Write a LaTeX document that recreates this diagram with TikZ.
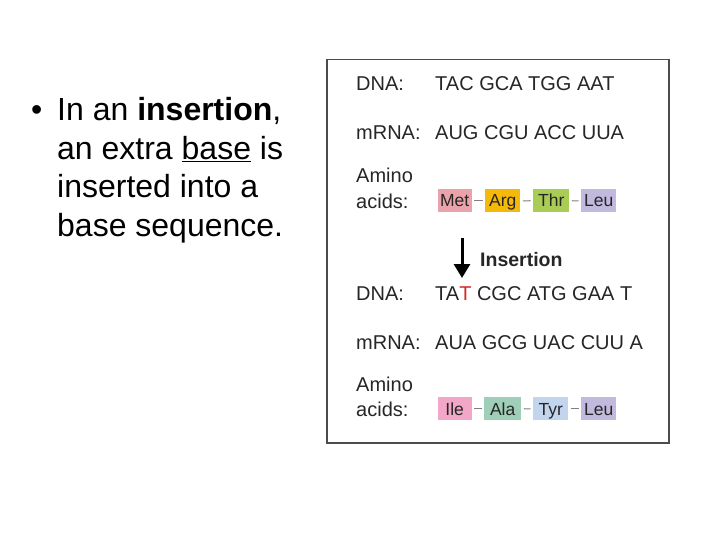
\documentclass[tikz,border=0pt]{standalone}
\usepackage{fontspec}
\setmainfont{Liberation Sans}
\usetikzlibrary{arrows.meta}
\definecolor{cMet}{HTML}{EBA3AB}
\definecolor{cArg}{HTML}{F5B90A}
\definecolor{cThr}{HTML}{A9CC55}
\definecolor{cLeu}{HTML}{C2B9DE}
\definecolor{cIle}{HTML}{F2A6C8}
\definecolor{cAla}{HTML}{9FCFB8}
\definecolor{cTyr}{HTML}{C2D4EE}
\definecolor{ins}{HTML}{D42A2A}
\tikzset{
  bul/.style={anchor=base west, inner sep=0pt, font=\fontsize{32}{38}\selectfont},
  lbl/.style={anchor=base west, inner sep=0pt, text=black!85, font=\fontsize{20}{24}\selectfont},
  aa/.style={anchor=base west, inner xsep=2pt, inner ysep=0pt, minimum height=23, text depth=0pt,
             text=black!85, font=\fontsize{17.5}{20}\selectfont},
  dashln/.style={draw=black!50, line width=1pt, shorten <=2.5pt, shorten >=2.5pt},
}
\begin{document}
\begin{tikzpicture}[x=1pt,y=-1pt]
\useasboundingbox (0,0) rectangle (720,540);
\fill[white] (0,0) rectangle (720,540);
% left bullet text
\node[bul] (b0) at (31,121) {•};
\node[bul] (t1) at (57,121) {In an \textbf{insertion},};
\node[bul] (t2) at (57,159.5) {an extra \underline{base} is};
\node[bul] (t3) at (57,198) {inserted into a};
\node[bul] (t4) at (57,236.5) {base sequence.};
% frame
\draw[black!70, line width=1.3pt] (327,59.5) rectangle (669,443);
% top block
\node[lbl] (dna1) at (356,91) {DNA:};
\node[lbl] (dnas1) at (435,91) {TAC GCA TGG AAT};
\node[lbl] (mrna1) at (356,140) {mRNA:};
\node[lbl] (mrnas1) at (435,140) {AUG CGU ACC UUA};
\node[lbl] (am1) at (356,183) {Amino};
\node[lbl] (ac1) at (356,208) {acids:};
\node[aa, fill=cMet, minimum width=34] (met) at (437.5,207) {Met};
\node[aa, fill=cArg, minimum width=35] (arg) at (485,207) {Arg};
\node[aa, fill=cThr, minimum width=36] (thr) at (533,207) {Thr};
\node[aa, fill=cLeu, minimum width=35] (leu1) at (581,207) {Leu};
\draw[dashln] (met.east) -- (arg.west);
\draw[dashln] (arg.east) -- (thr.west);
\draw[dashln] (thr.east) -- (leu1.west);
% arrow
\coordinate (atop) at (462,238);
\coordinate (atip) at (462,278);
\draw[line width=3pt, -{Triangle[width=16pt,length=14pt]}] (atop) -- (atip);
\node[lbl, font=\fontsize{19.5}{22}\selectfont\bfseries] (insl) at (480,266) {Insertion};
% bottom block
\node[lbl] (dna2) at (356,300) {DNA:};
\node[lbl] (dnas2) at (435,300) {TA\textcolor{ins}{T} CGC ATG GAA T};
\node[lbl] (mrna2) at (356,349) {mRNA:};
\node[lbl] (mrnas2) at (435,349) {AUA GCG UAC CUU A};
\node[lbl] (am2) at (356,391) {Amino};
\node[lbl] (ac2) at (356,416) {acids:};
\node[aa, fill=cIle, minimum width=34] (ile) at (437.5,415) {Ile};
\node[aa, fill=cAla, minimum width=37] (ala) at (484,415) {Ala};
\node[aa, fill=cTyr, minimum width=35] (tyr) at (533,415) {Tyr};
\node[aa, fill=cLeu, minimum width=35] (leu2) at (581,415) {Leu};
\draw[dashln] (ile.east) -- (ala.west);
\draw[dashln] (ala.east) -- (tyr.west);
\draw[dashln] (tyr.east) -- (leu2.west);
\end{tikzpicture}
\end{document}
